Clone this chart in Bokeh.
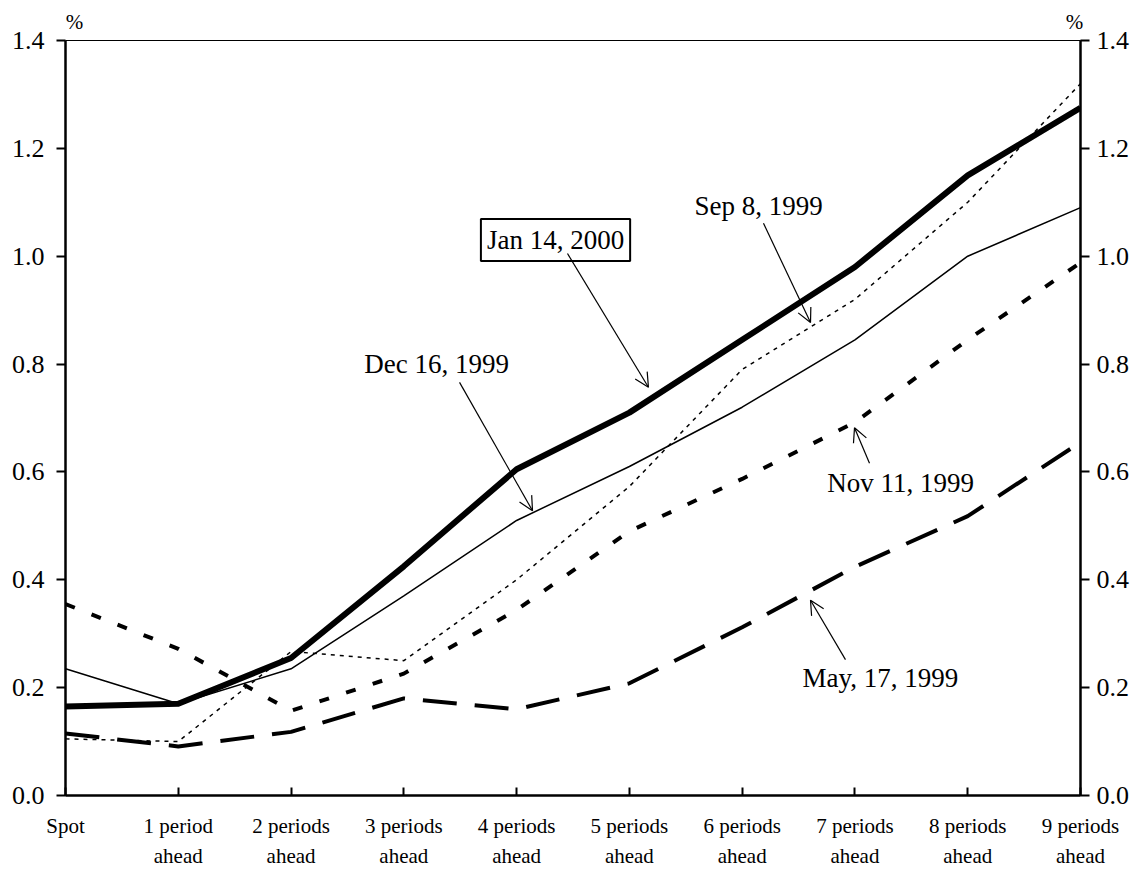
from bokeh.plotting import figure
from bokeh.models import (LinearAxis, FixedTicker, Range1d, Label, Arrow, OpenHead,
                          NumeralTickFormatter, CustomJSTickFormatter)
from bokeh.embed import file_html
from bokeh.resources import INLINE

# ---------------- data ----------------
categories = ["Spot", "1 period\nahead", "2 periods\nahead", "3 periods\nahead",
              "4 periods\nahead", "5 periods\nahead", "6 periods\nahead",
              "7 periods\nahead", "8 periods\nahead", "9 periods\nahead"]
jan_14_2000 = [0.165, 0.17, 0.255, 0.425, 0.605, 0.71, 0.845, 0.98, 1.15, 1.275]
dec_16_1999 = [0.235, 0.17, 0.235, 0.37, 0.51, 0.61, 0.72, 0.845, 1.00, 1.09]
sep_8_1999 = [0.105, 0.10, 0.267, 0.25, 0.40, 0.573, 0.79, 0.92, 1.10, 1.32]
nov_11_1999 = [0.355, 0.272, 0.157, 0.226, 0.344, 0.49, 0.587, 0.692, 0.845, 0.988]
may_17_1999 = [0.115, 0.091, 0.118, 0.18, 0.16, 0.208, 0.312, 0.424, 0.518, 0.655]
y_ticks = [0.0, 0.2, 0.4, 0.6, 0.8, 1.0, 1.2, 1.4]
unit_label = "%"

xs = list(range(len(categories)))
FONT = "Liberation Serif"

p = figure(width=1135, height=870, output_backend="svg", toolbar_location=None,
           x_range=Range1d(0, 9), y_range=Range1d(0, 1.4),
           min_border_left=65, min_border_right=55, min_border_top=40,
           min_border_bottom=75, background_fill_color="white",
           border_fill_color="white")
p.outline_line_color = "black"
p.outline_line_width = 1
p.xgrid.visible = False
p.ygrid.visible = False

# lines
p.line(xs, may_17_1999, line_color="black", line_width=4, line_dash="34 18")
p.line(xs, nov_11_1999, line_color="black", line_width=4, line_dash="10 18")
p.line(xs, sep_8_1999, line_color="black", line_width=1.5, line_dash="4 5")
p.line(xs, dec_16_1999, line_color="black", line_width=1.5)
p.line(xs, jan_14_2000, line_color="black", line_width=6, line_join="round")

# axes
xa = p.xaxis[0]
xa.ticker = FixedTicker(ticks=xs)
xa.major_label_overrides = {i: c for i, c in zip(xs, categories)}
xa.major_tick_in = 8
xa.major_tick_out = 0
xa.minor_tick_line_color = None
xa.axis_line_width = 2.5
xa.major_tick_line_width = 2
xa.major_label_text_font = FONT
xa.major_label_text_font_size = "21px"
xa.major_label_text_color = "black"
xa.major_label_text_line_height = 1.25
xa.major_label_standoff = 18

ya = p.yaxis[0]
ya.ticker = FixedTicker(ticks=y_ticks)
ya.formatter = NumeralTickFormatter(format="0.0")
ya.major_tick_in = 0
ya.major_tick_out = 9
ya.minor_tick_line_color = None
ya.axis_line_width = 2.5
ya.major_tick_line_width = 2
ya.major_label_text_font = FONT
ya.major_label_text_font_size = "26px"
ya.major_label_text_color = "black"
ya.major_label_standoff = 12

ra = LinearAxis(ticker=FixedTicker(ticks=y_ticks),
                formatter=NumeralTickFormatter(format="0.0"))
ra.major_tick_in = 0
ra.major_tick_out = 9
ra.minor_tick_line_color = None
ra.axis_line_width = 2.5
ra.major_tick_line_width = 2
ra.major_label_text_font = FONT
ra.major_label_text_font_size = "26px"
ra.major_label_text_color = "black"
ra.major_label_standoff = 7
p.add_layout(ra, "right")

# % unit labels above both value axes (an unlined axis above the frame)
ua = LinearAxis(ticker=FixedTicker(ticks=[0.08, 8.947]),
                formatter=CustomJSTickFormatter(code="return '%s';" % unit_label))
ua.axis_line_color = None
ua.major_tick_line_color = None
ua.minor_tick_line_color = None
ua.major_tick_in = 0
ua.major_tick_out = 0
ua.major_label_text_font = FONT
ua.major_label_text_font_size = "21px"
ua.major_label_text_color = "black"
ua.major_label_standoff = 7
p.add_layout(ua, "above")

# annotations: (text, label x, label y, arrow start, arrow end, boxed)
annotations = [
    ("Jan 14, 2000", 4.345, 1.030, (4.451, 1.005), (5.169, 0.757), True),
    ("Dec 16, 1999", 3.290, 0.801, (3.494, 0.766), (4.141, 0.528), False),
    ("Sep 8, 1999", 6.145, 1.094, (6.189, 1.061), (6.606, 0.877), False),
    ("Nov 11, 1999", 7.404, 0.580, (7.129, 0.616), (6.996, 0.682), False),
    ("May, 17, 1999", 7.226, 0.217, (6.916, 0.252), (6.606, 0.362), False),
]
for text, lx, ly, (x0, y0), (x1, y1), boxed in annotations:
    kw = dict(x=lx, y=ly, text=text, text_align="center", text_baseline="middle",
              text_font=FONT, text_font_size="27px", text_color="black")
    if boxed:
        kw.update(border_line_color="black", border_line_width=2,
                  background_fill_color="white", padding=6)
    p.add_layout(Label(**kw))
    p.add_layout(Arrow(x_start=x0, y_start=y0, x_end=x1, y_end=y1,
                       line_color="black", line_width=1.2,
                       end=OpenHead(size=14, line_width=1.2, line_color="black")))

open("out.html", "w").write(file_html(p, INLINE))
